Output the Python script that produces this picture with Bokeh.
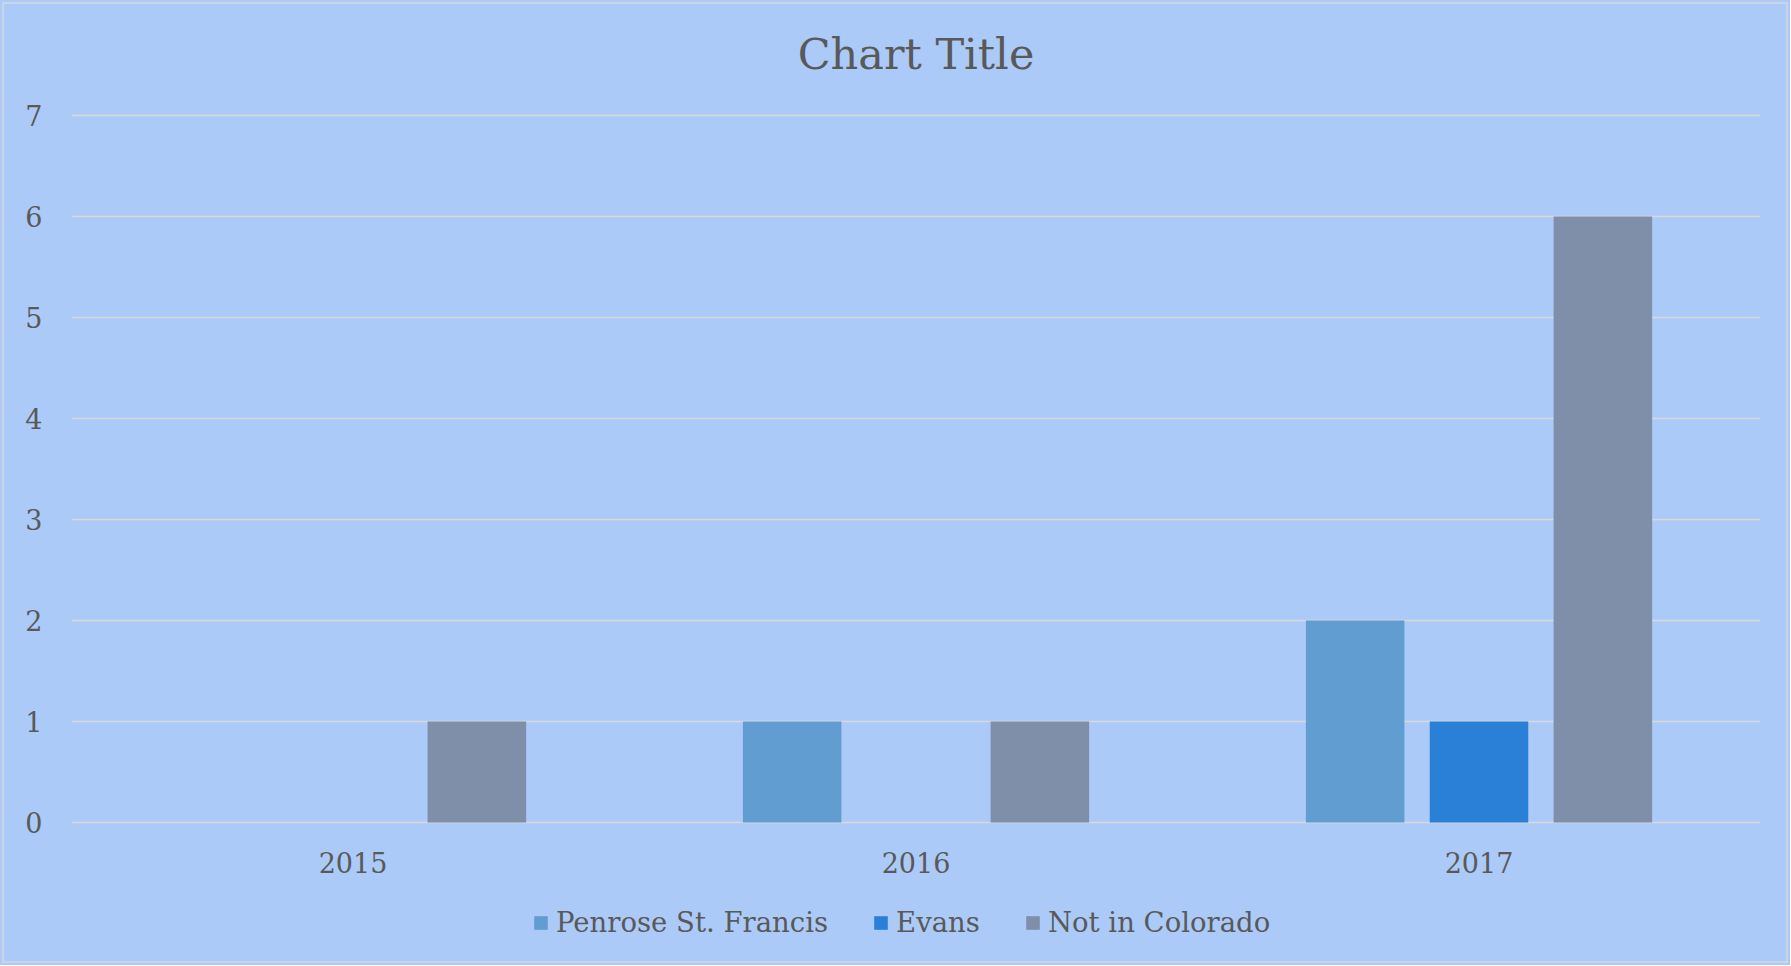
from bokeh.plotting import figure
from bokeh.layouts import column
from bokeh.models import (ColumnDataSource, Legend, LegendItem, FactorRange, FixedTicker,
                          Range1d, Title)
from bokeh.transform import dodge
from bokeh.embed import file_html
from bokeh.resources import INLINE

years = ["2015", "2016", "2017"]
penrose = [0, 1, 2]
evans = [0, 0, 1]
not_in_co = [1, 1, 6]
y_ticks = [0, 1, 2, 3, 4, 5, 6, 7]
series_names = ["Penrose St. Francis", "Evans", "Not in Colorado"]
colors = ["#619DD1", "#2A7FD6", "#7F8FAA"]
chart_title = "Chart Title"

BG = "#ABCAF7"
TXT = "#595959"
GRID = "#D9D9D9"
FONT = "DejaVu Serif"
W = 1790

src = ColumnDataSource(dict(year=years, penrose=penrose, evans=evans, notco=not_in_co))

p = figure(x_range=FactorRange(*years), y_range=Range1d(-0.03, 7.03), width=W, height=890,
           output_backend="svg", toolbar_location=None, title=None,
           min_border_left=71, min_border_right=30, min_border_top=112, min_border_bottom=65)
p.background_fill_color = None
p.border_fill_color = None
p.outline_line_color = None

# spacer between plot area and title (added first -> nearest the plot area)
p.add_layout(Title(text=" ", text_font_size="2px", standoff=30), "above")
p.add_layout(Title(text=chart_title, align="center", text_font=FONT, text_font_size="43px",
                   text_font_style="normal", text_color=TXT, standoff=0), "above")

bw = 0.175
off = 0.22
for col, shift, c in zip(["penrose", "evans", "notco"], [-off, 0, off], colors):
    p.vbar(x=dodge("year", shift, range=p.x_range), top=col, width=bw, source=src,
           fill_color=c, line_color=None)

p.yaxis.ticker = FixedTicker(ticks=y_ticks)
p.yaxis.axis_line_color = None
p.yaxis.major_tick_line_color = None
p.yaxis.minor_tick_line_color = None
p.yaxis.major_label_standoff = 23
p.xaxis.axis_line_color = None
p.xaxis.major_tick_line_color = None
p.xaxis.major_label_standoff = 20
for ax in (p.xaxis, p.yaxis):
    ax.major_label_text_font = FONT
    ax.major_label_text_font_size = "27px"
    ax.major_label_text_color = TXT

p.xgrid.grid_line_color = None
p.ygrid.grid_line_color = GRID
p.ygrid.grid_line_width = 1.4

# legend strip below the chart
p2 = figure(width=W, height=75, x_range=Range1d(0, 1), y_range=Range1d(0, 1),
            output_backend="svg", toolbar_location=None,
            min_border_left=0, min_border_right=0, min_border_top=0, min_border_bottom=0)
p2.axis.visible = False
p2.grid.visible = False
p2.outline_line_color = None
p2.background_fill_color = None
p2.border_fill_color = None
items = []
for n, c in zip(series_names, colors):
    r = p2.vbar(x=[-5], top=[-5], width=0.1, fill_color=c, line_color=None)
    items.append(LegendItem(label=n, renderers=[r]))

legend = Legend(items=items, orientation="horizontal", location=(461, 27))
legend.background_fill_alpha = 0
legend.border_line_color = None
legend.label_text_font = FONT
legend.label_text_font_size = "27.5px"
legend.label_text_color = TXT
legend.glyph_width = 17
legend.glyph_height = 17
legend.label_standoff = 7
legend.spacing = 44
legend.margin = 0
legend.padding = 8
p2.add_layout(legend, "center")

layout = column(p, p2, spacing=0,
                styles={"background-color": BG, "outline": "2px solid #C9D4E6",
                        "outline-offset": "-4px"})
open("out.html", "w").write(file_html(layout, INLINE))
